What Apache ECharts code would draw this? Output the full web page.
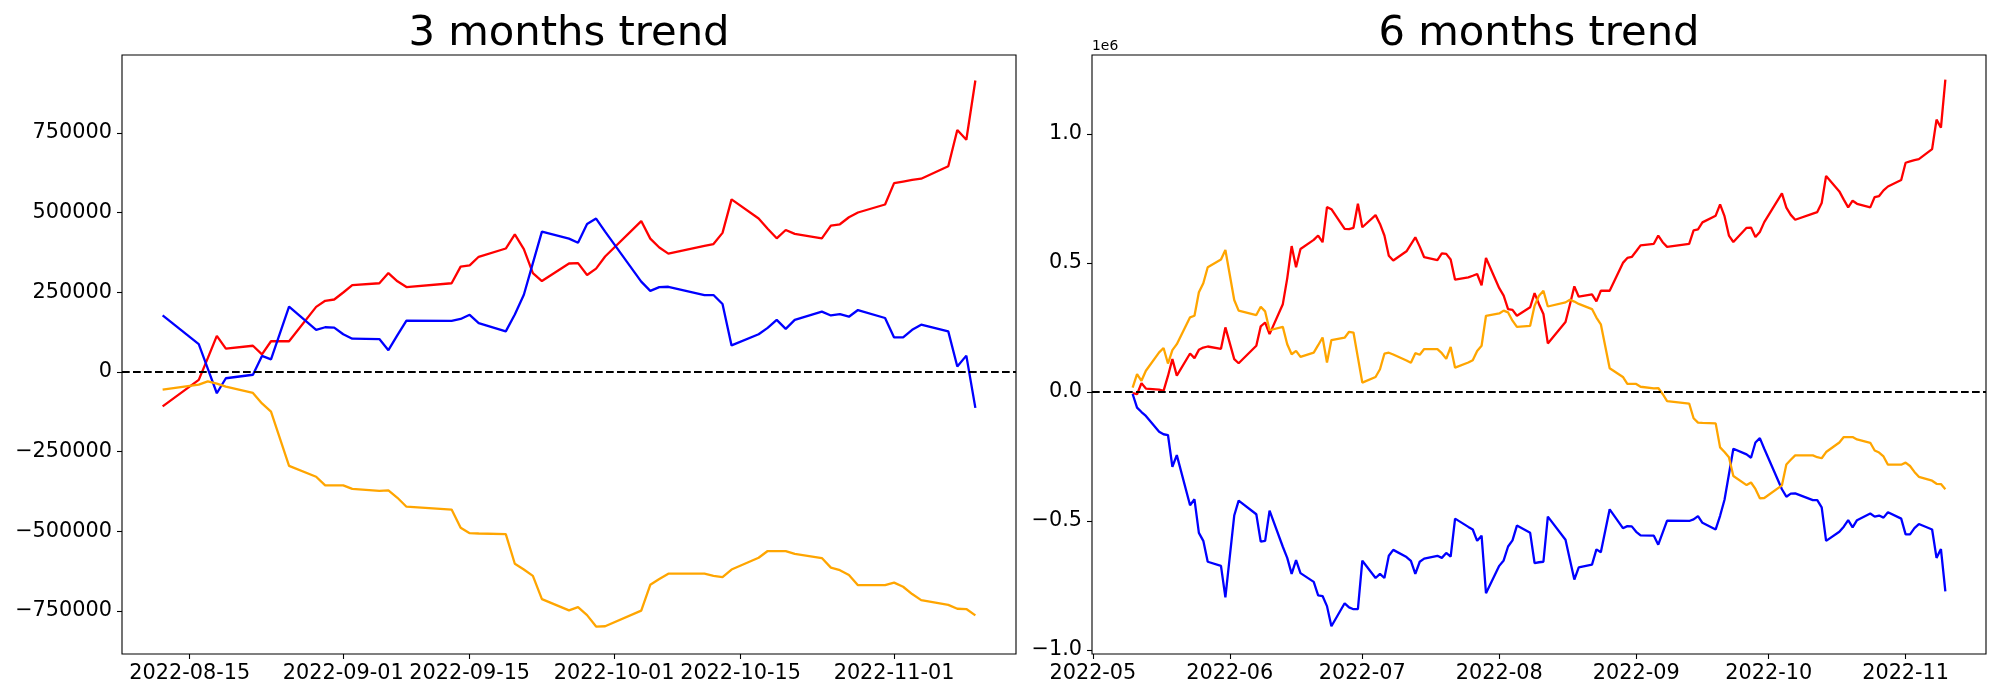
<!DOCTYPE html>
<html><head><meta charset="utf-8">
<script src="https://cdn.jsdelivr.net/npm/echarts@6/dist/echarts.min.js"></script>
<style>html,body{margin:0;padding:0;background:#fff}#c{width:2000px;height:700px}</style>
</head><body><div id="c"></div>
<script>
// ---------- 3 months trend ----------
const dates3 = ['2022-08-12','2022-08-16','2022-08-17','2022-08-18','2022-08-19','2022-08-22','2022-08-23','2022-08-24','2022-08-26','2022-08-29','2022-08-30','2022-08-31','2022-09-01','2022-09-02','2022-09-05','2022-09-06','2022-09-07','2022-09-08','2022-09-13','2022-09-14','2022-09-15','2022-09-16','2022-09-19','2022-09-20','2022-09-21','2022-09-22','2022-09-23','2022-09-26','2022-09-27','2022-09-28','2022-09-29','2022-09-30','2022-10-04','2022-10-05','2022-10-06','2022-10-07','2022-10-11','2022-10-12','2022-10-13','2022-10-14','2022-10-17','2022-10-18','2022-10-19','2022-10-20','2022-10-21','2022-10-24','2022-10-25','2022-10-26','2022-10-27','2022-10-28','2022-10-31','2022-11-01','2022-11-02','2022-11-03','2022-11-04','2022-11-07','2022-11-08','2022-11-09','2022-11-10'];
const red3 = [-108000,-25000,43000,113000,73000,82000,55000,96000,96000,204000,223000,227000,249000,272000,278000,310000,284000,266000,278000,330000,334000,361000,387000,431000,385000,310000,285000,340000,341000,304000,324000,362000,473000,418000,390000,371000,395000,401000,436000,541000,481000,449000,419000,445000,433000,419000,459000,463000,485000,500000,525000,592000,597000,602000,606000,645000,759000,728000,914000];
const blue3 = [177000,87000,10000,-67000,-20000,-9000,50000,39000,205000,132000,140000,139000,118000,104000,103000,68000,115000,161000,160000,166000,179000,153000,127000,180000,242000,341000,440000,418000,405000,464000,481000,440000,283000,254000,266000,267000,241000,241000,213000,83000,118000,138000,163000,135000,163000,189000,177000,181000,173000,194000,169000,108000,108000,132000,148000,127000,17000,51000,-113000];
const orange3 = [-56000,-40000,-30000,-37000,-46000,-66000,-99000,-125000,-295000,-329000,-356000,-356000,-356000,-367000,-373000,-372000,-395000,-423000,-432000,-489000,-506000,-507000,-509000,-602000,-620000,-640000,-713000,-748000,-738000,-763000,-799000,-798000,-749000,-668000,-650000,-633000,-633000,-640000,-644000,-620000,-583000,-562000,-562000,-562000,-571000,-584000,-614000,-622000,-637000,-669000,-669000,-661000,-674000,-697000,-716000,-731000,-743000,-744000,-764000];

// ---------- 6 months trend ----------
const dates6 = ['2022-05-10','2022-05-11','2022-05-12','2022-05-13','2022-05-16','2022-05-17','2022-05-18','2022-05-19','2022-05-20','2022-05-23','2022-05-24','2022-05-25','2022-05-26','2022-05-27','2022-05-30','2022-05-31','2022-06-02','2022-06-03','2022-06-07','2022-06-08','2022-06-09','2022-06-10','2022-06-13','2022-06-14','2022-06-15','2022-06-16','2022-06-17','2022-06-20','2022-06-21','2022-06-22','2022-06-23','2022-06-24','2022-06-27','2022-06-28','2022-06-29','2022-06-30','2022-07-01','2022-07-04','2022-07-05','2022-07-06','2022-07-07','2022-07-08','2022-07-11','2022-07-12','2022-07-13','2022-07-14','2022-07-15','2022-07-18','2022-07-19','2022-07-20','2022-07-21','2022-07-22','2022-07-25','2022-07-26','2022-07-27','2022-07-28','2022-07-29','2022-08-01','2022-08-02','2022-08-03','2022-08-04','2022-08-05','2022-08-08','2022-08-09','2022-08-10','2022-08-11',
'2022-08-12','2022-08-16','2022-08-17','2022-08-18','2022-08-19','2022-08-22','2022-08-23','2022-08-24','2022-08-26','2022-08-29','2022-08-30','2022-08-31','2022-09-01','2022-09-02','2022-09-05','2022-09-06','2022-09-07','2022-09-08','2022-09-13','2022-09-14','2022-09-15','2022-09-16','2022-09-19','2022-09-20','2022-09-21','2022-09-22','2022-09-23','2022-09-26','2022-09-27','2022-09-28','2022-09-29','2022-09-30','2022-10-04','2022-10-05','2022-10-06','2022-10-07','2022-10-11','2022-10-12','2022-10-13','2022-10-14','2022-10-17','2022-10-18','2022-10-19','2022-10-20','2022-10-21','2022-10-24','2022-10-25','2022-10-26','2022-10-27','2022-10-28','2022-10-31','2022-11-01','2022-11-02','2022-11-03','2022-11-04','2022-11-07','2022-11-08','2022-11-09','2022-11-10'];
const red6 = [-5000,-9000,34000,13000,9000,4000,62000,127000,63000,149000,131000,163000,172000,176000,167000,250000,127000,111000,179000,254000,269000,224000,340000,440000,565000,483000,554000,589000,606000,580000,716000,708000,632000,631000,636000,729000,638000,685000,651000,606000,528000,509000,545000,572000,599000,563000,522000,511000,537000,535000,513000,435000,444000,450000,457000,413000,519000,402000,373000,321000,318000,295000,328000,383000,340000,302000,
188000,271000,339000,409000,369000,378000,351000,392000,392000,500000,519000,523000,545000,568000,574000,606000,580000,562000,574000,626000,630000,657000,683000,727000,681000,606000,581000,636000,637000,600000,620000,658000,769000,714000,686000,667000,691000,697000,732000,837000,777000,745000,715000,741000,729000,715000,755000,759000,781000,796000,821000,888000,893000,898000,902000,941000,1055000,1024000,1210000];
const blue6 = [-8000,-61000,-78000,-93000,-154000,-164000,-167000,-290000,-245000,-439000,-416000,-546000,-577000,-658000,-674000,-796000,-479000,-421000,-474000,-580000,-577000,-460000,-600000,-643000,-705000,-652000,-702000,-736000,-788000,-791000,-830000,-908000,-819000,-835000,-842000,-842000,-654000,-721000,-705000,-721000,-635000,-612000,-640000,-655000,-705000,-658000,-646000,-635000,-643000,-624000,-638000,-491000,-523000,-533000,-577000,-557000,-780000,-674000,-653000,-599000,-575000,-518000,-546000,-663000,-660000,-658000,
-483000,-573000,-650000,-727000,-680000,-669000,-610000,-621000,-455000,-528000,-520000,-521000,-542000,-556000,-557000,-592000,-545000,-499000,-500000,-494000,-481000,-507000,-533000,-480000,-418000,-319000,-220000,-242000,-255000,-196000,-179000,-220000,-377000,-406000,-394000,-393000,-419000,-419000,-447000,-577000,-542000,-522000,-497000,-525000,-497000,-471000,-483000,-479000,-487000,-466000,-491000,-552000,-552000,-528000,-512000,-533000,-643000,-609000,-773000];
const orange6 = [17000,69000,43000,82000,153000,170000,110000,162000,185000,289000,295000,386000,421000,483000,513000,550000,356000,315000,298000,330000,312000,239000,252000,185000,146000,159000,136000,152000,181000,211000,114000,201000,210000,233000,230000,133000,36000,58000,88000,148000,152000,145000,122000,113000,150000,144000,166000,166000,150000,128000,174000,94000,114000,123000,159000,179000,295000,304000,315000,308000,276000,252000,256000,334000,373000,392000,
331000,347000,357000,350000,341000,321000,288000,262000,92000,58000,31000,31000,31000,20000,14000,15000,-8000,-36000,-45000,-102000,-119000,-120000,-122000,-215000,-233000,-253000,-326000,-361000,-351000,-376000,-412000,-411000,-362000,-281000,-263000,-246000,-246000,-253000,-257000,-233000,-196000,-175000,-175000,-175000,-184000,-197000,-227000,-235000,-250000,-282000,-282000,-274000,-287000,-310000,-329000,-344000,-356000,-357000,-377000];

// ---------- ticks & texts ----------
const xTicks3 = ['2022-08-15','2022-09-01','2022-09-15','2022-10-01','2022-10-15','2022-11-01'];
const xTicks6 = ['2022-05-01','2022-06-01','2022-07-01','2022-08-01','2022-09-01','2022-10-01','2022-11-01'];
const yTicks3 = [-750000,-500000,-250000,0,250000,500000,750000];
const yTicks6 = [-1000000,-500000,0,500000,1000000];
const titles = ['3 months trend','6 months trend'];
const offsetText6 = '1e6';
const colors = {red:'#ff0000', blue:'#0000ff', orange:'#ffa500'};

function ts(s){const p=s.split('-').map(Number);return new Date(p[0],p[1]-1,p[2]).getTime();}
const DAY = 86400000;
function pairs(d,v){return d.map((x,i)=>[ts(x),v[i]]);}
function pad(n){return (n<10?'0':'')+n;}
function fmtDay(v){const d=new Date(v);return d.getFullYear()+'-'+pad(d.getMonth()+1)+'-'+pad(d.getDate());}
function fmtMonth(v){const d=new Date(v);return d.getFullYear()+'-'+pad(d.getMonth()+1);}
const MINUS='\u2212';

const FONT='DejaVu Sans';
const labelStyle={color:'#000',fontFamily:FONT,fontSize:20.8};
const tickStyle={show:true,inside:false,length:5,lineStyle:{color:'#000',width:1.1}};

function xAxis(gi,min,max,ticks,fmt){
  const tv = ticks.map(ts);
  return {type:'value',gridIndex:gi,min:min,max:max,scale:true,
    axisLine:{show:false,onZero:false},splitLine:{show:false},
    axisTick:Object.assign({},tickStyle,{customValues:tv}),
    axisLabel:Object.assign({},labelStyle,{margin:9,customValues:tv,formatter:fmt,hideOverlap:false})};
}
function yAxis(gi,min,max,ticks,fmt){
  return {type:'value',gridIndex:gi,min:min,max:max,scale:true,
    axisLine:{show:false,onZero:false},splitLine:{show:false},
    axisTick:Object.assign({},tickStyle,{customValues:ticks}),
    axisLabel:Object.assign({},labelStyle,{margin:10,customValues:ticks,formatter:fmt})};
}
const fmt3 = v => (v<0?MINUS:'')+String(Math.abs(v));
const fmt6 = v => (v<0?MINUS:'')+(Math.abs(v)/1e6).toFixed(1);

function lineSeries(gi,d,v,color,extra){
  return Object.assign({type:'line',xAxisIndex:gi,yAxisIndex:gi,data:pairs(d,v),showSymbol:false,symbol:'none',
    lineStyle:{color:color,width:2.3},itemStyle:{color:color},silent:true,animation:false},extra||{});
}
const zeroLine = {silent:true,symbol:'none',label:{show:false},animation:false,
  lineStyle:{color:'#000',type:[7.7,3.3],width:2.1},data:[{yAxis:0}]};

const gridBox = {show:true,borderColor:'#000',borderWidth:1.1,backgroundColor:'transparent',top:55,height:599,width:894};

const option = {
  backgroundColor:'#ffffff',
  animation:false,
  title:[
    {text:titles[0],left:569,top:13.5,textAlign:'center',padding:0,textStyle:{color:'#000',fontFamily:FONT,fontWeight:'normal',fontSize:41.7}},
    {text:titles[1],left:1539,top:13.5,textAlign:'center',padding:0,textStyle:{color:'#000',fontFamily:FONT,fontWeight:'normal',fontSize:41.7}},
    {text:offsetText6,left:1092,top:39,padding:0,textStyle:{color:'#000',fontFamily:FONT,fontWeight:'normal',fontSize:13.9}}
  ],
  grid:[Object.assign({left:122},gridBox),Object.assign({left:1092},gridBox)],
  xAxis:[
    xAxis(0, ts('2022-08-12')-4.5*DAY, ts('2022-11-10')+4.5*DAY, xTicks3, fmtDay),
    xAxis(1, ts('2022-05-10')-9.2*DAY, ts('2022-11-10')+9.2*DAY, xTicks6, fmtMonth)
  ],
  yAxis:[
    yAxis(0,-885000,994000,yTicks3,fmt3),
    yAxis(1,-1015500,1305500,yTicks6,fmt6)
  ],
  series:[
    lineSeries(0,dates3,red3,colors.red),
    lineSeries(0,dates3,blue3,colors.blue),
    lineSeries(0,dates3,orange3,colors.orange,{markLine:zeroLine}),
    lineSeries(1,dates6,red6,colors.red),
    lineSeries(1,dates6,blue6,colors.blue),
    lineSeries(1,dates6,orange6,colors.orange,{markLine:zeroLine})
  ]
};
const chart = echarts.init(document.getElementById('c'),null,{renderer:'canvas'});
chart.setOption(option);
</script>
</body></html>
